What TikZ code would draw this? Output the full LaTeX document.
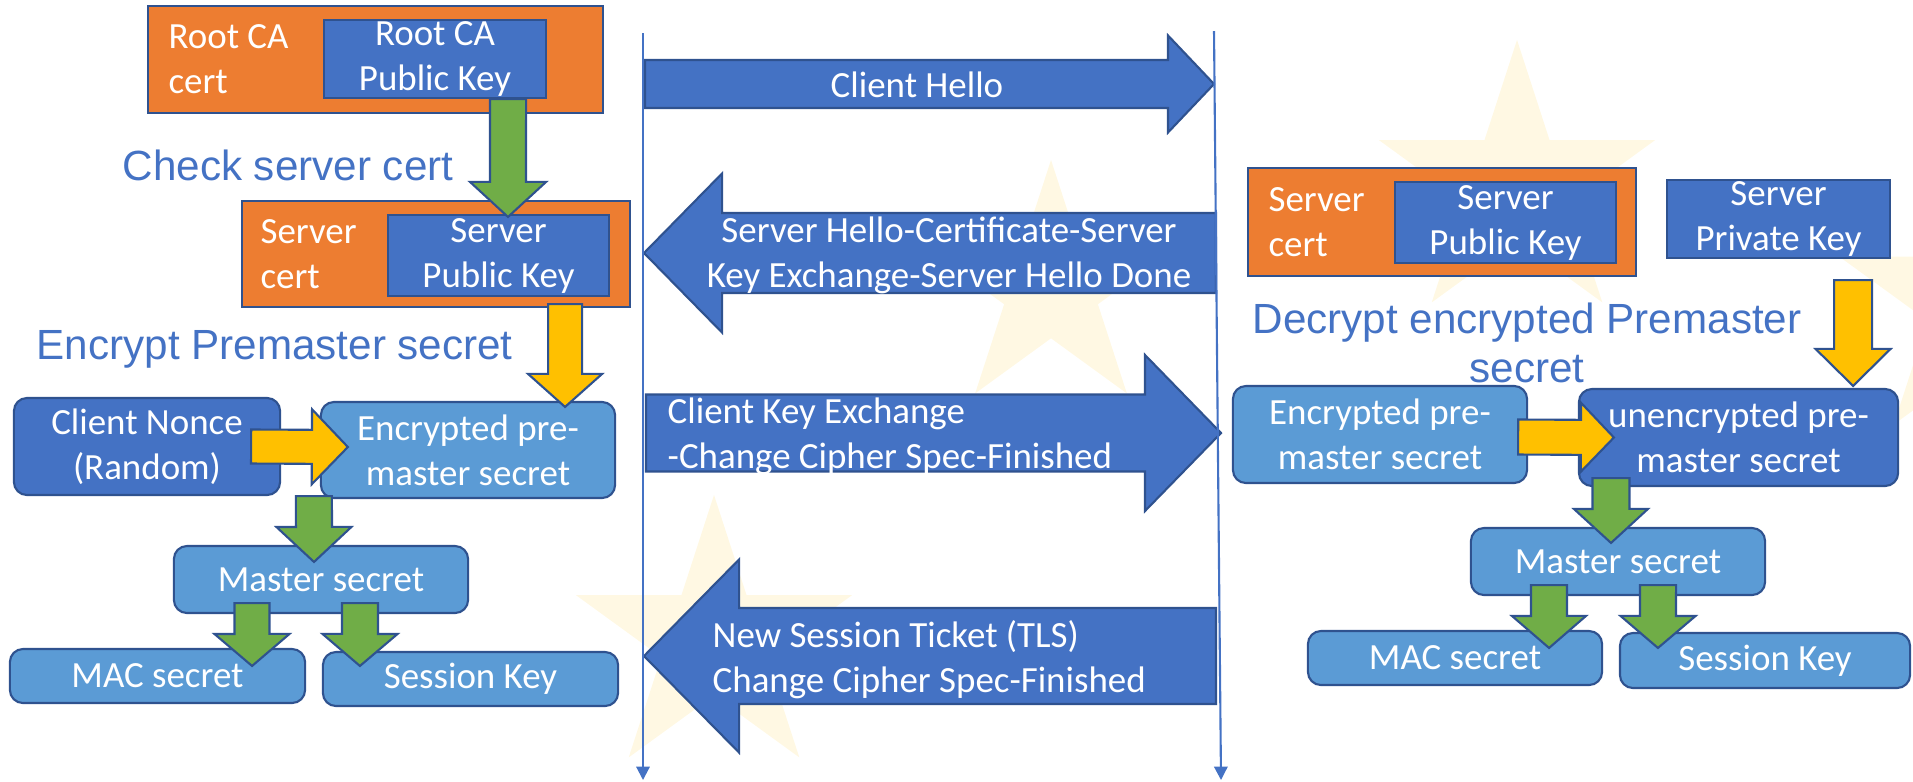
\documentclass[tikz,border=0pt]{standalone}
\usepackage{fontspec}
\setmainfont{Carlito}
\newfontfamily\headfont{Liberation Sans}
\usetikzlibrary{arrows.meta, positioning, shapes.geometric, calc}
\definecolor{tlsOrange}{HTML}{ED7D31}
\definecolor{tlsBlue}{HTML}{4472C4}
\definecolor{tlsLight}{HTML}{5B9BD5}
\definecolor{tlsEdge}{HTML}{2F528F}
\definecolor{tlsGreen}{HTML}{70AD47}
\definecolor{tlsYellow}{HTML}{FFC000}
\definecolor{tlsStar}{HTML}{FFF8E3}

% fat arrow: [style]{start}{tip}{half shaft}{half head}{head length}
\newcommand{\blockarrow}[6][]{%
  \coordinate (bas) at #2;
  \coordinate (bae) at #3;
  \coordinate (bah) at ($(bae)!#6!(bas)$);
  \filldraw[#1] ($(bas)!#4!90:(bae)$) -- ($(bah)!#4!90:(bae)$)
    -- ($(bah)!#5!90:(bae)$) -- (bae) -- ($(bah)!#5!-90:(bae)$)
    -- ($(bah)!#4!-90:(bae)$) -- ($(bas)!#4!-90:(bae)$) -- cycle;
}

\begin{document}
\begin{tikzpicture}[x=0.01cm, y=-0.01cm,
    txt/.style={font=\fontsize{10.5}{12.8}\selectfont, text=white},
    certbox/.style={rectangle, fill=tlsOrange, draw=tlsEdge, line width=0.6pt,
                    inner sep=0pt},
    certlbl/.style={txt, align=left, inner sep=0pt, anchor=west},
    keybox/.style={rectangle, fill=tlsBlue, draw=tlsEdge, line width=0.6pt,
                   align=center, inner sep=0pt, txt},
    secbox/.style={rectangle, rounded corners=3.7pt, fill=tlsLight, draw=tlsEdge,
                   line width=0.6pt, align=center, inner sep=0pt, txt},
    heading/.style={font=\headfont\fontsize{12}{14}\selectfont, text=tlsBlue,
                    inner sep=0pt},
    msgtext/.style={txt, inner sep=0pt},
    msgarrow/.style={fill=tlsBlue, draw=tlsEdge, line width=0.6pt},
    greenarr/.style={fill=tlsGreen, draw=tlsEdge, line width=0.6pt},
    yellowarr/.style={fill=tlsYellow, draw=tlsEdge, line width=0.6pt},
    lifeline/.style={draw=tlsBlue, line width=0.6pt,
                     -{Triangle[length=3.8pt, width=3.8pt]}},
    bgstar/.style={star, star points=5, star point ratio=2.618, fill=tlsStar,
                   inner sep=0pt},
  ]
    \useasboundingbox (0,0) rectangle (1913,781);

    % faint stars behind
    \node[bgstar, minimum size=2.9cm] (star1) at (1517,185) {};
    \node[bgstar, minimum size=2.58cm] (star2) at (1051,289) {};
    \node[bgstar, minimum size=2.9cm] (star3) at (714,640) {};
    \node[bgstar, minimum size=3cm] (star4) at (1982,303) {};

    % handshake messages
    \coordinate (cliTop) at (643,33);
    \coordinate (cliBot) at (643,780);
    \coordinate (srvTop) at (1214,31);
    \coordinate (srvBot) at (1221,780);

    \coordinate (hello1) at (645,84);
    \coordinate (hello2) at (1214,84);
    \coordinate (shs) at (1216,253);
    \coordinate (she) at (644,253);
    \coordinate (ckes) at (646,433);
    \coordinate (ckee) at (1221,433);
    \coordinate (nsts) at (1216,656);
    \coordinate (nste) at (644,656);

    \blockarrow[msgarrow]{(hello1)}{(hello2)}{0.24cm}{0.485cm}{0.46cm}
    \blockarrow[msgarrow]{(shs)}{(she)}{0.40cm}{0.795cm}{0.78cm}
    \blockarrow[msgarrow]{(ckes)}{(ckee)}{0.385cm}{0.78cm}{0.76cm}
    \blockarrow[msgarrow]{(nsts)}{(nste)}{0.48cm}{0.965cm}{0.95cm}

    \draw[lifeline] (cliTop) -- (cliBot);
    \draw[lifeline] (srvTop) -- (srvBot);

    \node[msgtext, anchor=base] (chello) at (917,97) {Client Hello};
    \node[msgtext, align=center] (shello) at (949,255)
      {Server Hello-Certificate-Server\\Key Exchange-Server Hello Done};
    \node[msgtext, align=left, anchor=west] (ckex) at (667,436)
      {Client Key Exchange\\-Change Cipher Spec-Finished};
    \node[msgtext, align=left, anchor=west] (nstick) at (712,660)
      {New Session Ticket (TLS)\\Change Cipher Spec-Finished};

    % client side
    \node[certbox, minimum width=4.55cm, minimum height=1.07cm] (rootcert)
      at (375.5,59.5) {};
    \node[certlbl] (rootcertlbl) at ([xshift=0.21cm]rootcert.west) {Root CA\\cert};
    \node[keybox, minimum width=2.22cm, minimum height=0.78cm] (rootkey)
      at (435,59) {Root CA\\Public Key};
    \node[certbox, minimum width=3.88cm, minimum height=1.06cm] (srvcert)
      at (436,254) {};
    \node[certlbl] (srvcertlbl) at ([xshift=0.19cm]srvcert.west) {Server\\cert};
    \node[keybox, minimum width=2.21cm, minimum height=0.81cm] (srvkey)
      at (498.5,255.5) {Server\\Public Key};
    \node[heading, anchor=base west] (chkhead) at (122,180) {Check server cert};
    \node[heading, anchor=base west] (enchead) at (36,359) {Encrypt Premaster secret};

    \node[secbox, fill=tlsBlue, minimum width=2.66cm, minimum height=0.97cm]
      (clinonce) at (147,446.5) {Client Nonce\\(Random)};
    \node[secbox, minimum width=2.94cm, minimum height=0.96cm] (encpre)
      at (468,450) {Encrypted pre-\\master secret};
    \node[secbox, minimum width=2.94cm, minimum height=0.67cm] (mastl)
      at (321,579.5) {Master secret};
    \node[secbox, minimum width=2.95cm, minimum height=0.54cm] (macl)
      at (157.5,676) {MAC secret};
    \node[secbox, minimum width=2.95cm, minimum height=0.54cm] (sesl)
      at (470.5,679) {Session Key};

    \blockarrow[greenarr]{([xshift=0.73cm]rootkey.south)}
      {([xshift=0.095cm,yshift=-0.03cm]srvkey.north)}{0.18cm}{0.38cm}{0.35cm}
    \blockarrow[yellowarr]{([xshift=1.29cm,yshift=0.04cm]srvcert.south)}
      {([xshift=0.97cm,yshift=-0.06cm]encpre.north)}{0.17cm}{0.37cm}{0.33cm}
    \blockarrow[yellowarr]{([xshift=-0.30cm]clinonce.east)}
      {([xshift=0.28cm,yshift=0.03cm]encpre.west)}{0.17cm}{0.375cm}{0.36cm}
    \blockarrow[greenarr]{([xshift=-1.54cm,yshift=0.03cm]encpre.south)}
      {([xshift=-0.07cm,yshift=-0.17cm]mastl.north)}{0.18cm}{0.375cm}{0.35cm}
    \blockarrow[greenarr]{([xshift=-0.69cm,yshift=0.11cm]mastl.south)}
      {([xshift=0.945cm,yshift=-0.18cm]macl.north)}{0.175cm}{0.375cm}{0.32cm}
    \blockarrow[greenarr]{([xshift=0.39cm,yshift=0.11cm]mastl.south)}
      {([xshift=-1.105cm,yshift=-0.15cm]sesl.north)}{0.18cm}{0.375cm}{0.32cm}

    % server side
    \node[certbox, minimum width=3.88cm, minimum height=1.08cm] (srvcert2)
      at (1442,222) {};
    \node[certlbl] (srvcert2lbl) at ([xshift=0.21cm]srvcert2.west) {Server\\cert};
    \node[keybox, minimum width=2.21cm, minimum height=0.81cm] (srvkey2)
      at (1505.5,222.5) {Server\\Public Key};
    \node[keybox, minimum width=2.23cm, minimum height=0.78cm] (privkey)
      at (1778.5,219) {Server\\Private Key};
    \node[heading, align=center] (dechead) at (1527,343)
      {Decrypt encrypted Premaster\\secret};

    \node[secbox, minimum width=2.94cm, minimum height=0.97cm] (encpre2)
      at (1380,434.5) {Encrypted pre-\\master secret};
    \node[secbox, fill=tlsBlue, minimum width=3.19cm, minimum height=0.97cm]
      (unenc) at (1738.5,437.5) {unencrypted pre-\\master secret};
    \node[secbox, minimum width=2.94cm, minimum height=0.67cm] (mastr)
      at (1618,561.5) {Master secret};
    \node[secbox, minimum width=2.94cm, minimum height=0.54cm] (macr)
      at (1455,658) {MAC secret};
    \node[secbox, minimum width=2.90cm, minimum height=0.55cm] (sesr)
      at (1765,660.5) {Session Key};

    \blockarrow[yellowarr]{([xshift=0.745cm,yshift=-0.21cm]privkey.south)}
      {([xshift=1.145cm,yshift=0.02cm]unenc.north)}{0.19cm}{0.375cm}{0.37cm}
    \blockarrow[yellowarr]{([xshift=-0.10cm,yshift=-0.025cm]encpre2.east)}
      {([xshift=0.36cm]unenc.west)}{0.175cm}{0.345cm}{0.33cm}
    \blockarrow[greenarr]{([xshift=-1.275cm,yshift=0.09cm]unenc.south)}
      {([xshift=-0.07cm,yshift=-0.16cm]mastr.north)}{0.185cm}{0.37cm}{0.34cm}
    \blockarrow[greenarr]{([xshift=-0.69cm,yshift=0.11cm]mastr.south)}
      {([xshift=0.94cm,yshift=-0.18cm]macr.north)}{0.18cm}{0.37cm}{0.32cm}
    \blockarrow[greenarr]{([xshift=0.40cm,yshift=0.11cm]mastr.south)}
      {([xshift=-1.07cm,yshift=-0.16cm]sesr.north)}{0.18cm}{0.375cm}{0.32cm}
\end{tikzpicture}
\end{document}
